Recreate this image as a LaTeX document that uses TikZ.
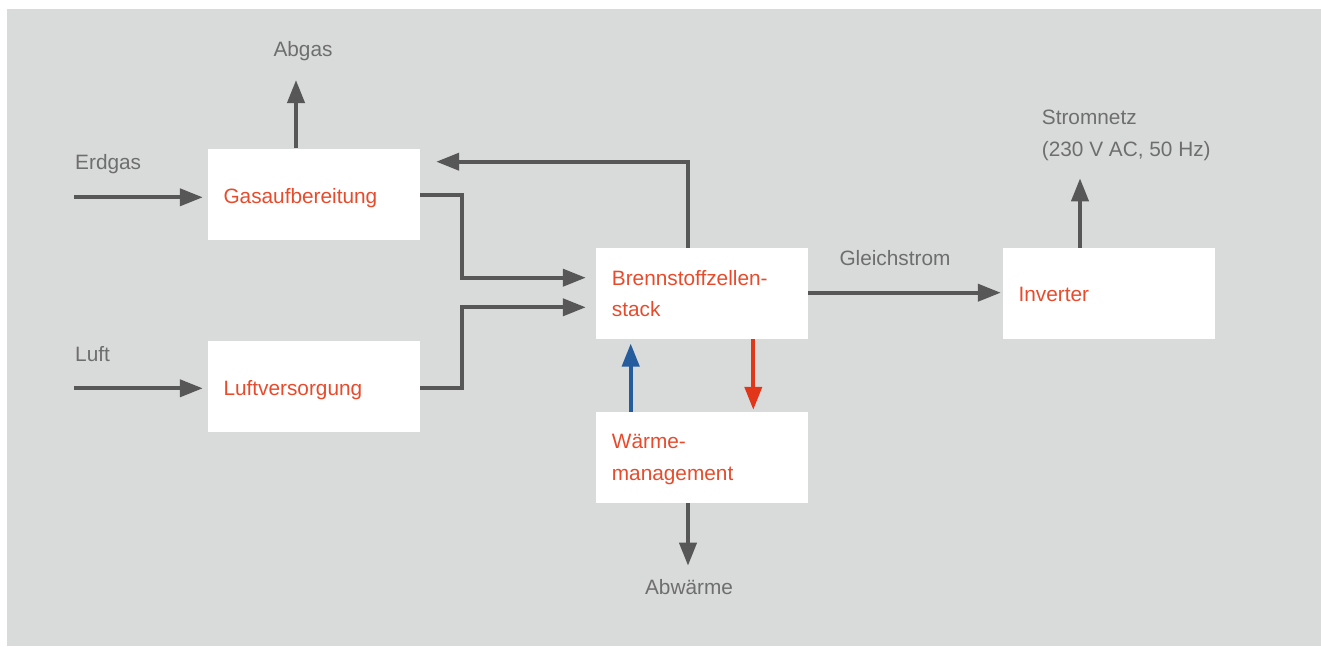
\documentclass[tikz,border=0pt]{standalone}
\usepackage{fontspec}
\setmainfont{Liberation Sans}
\usetikzlibrary{arrows.meta}
\definecolor{bggray}{HTML}{D9DBDA}
\definecolor{linegray}{HTML}{575757}
\definecolor{txtgray}{HTML}{6E6E6E}
\definecolor{boxtxt}{HTML}{E84B2C}
\definecolor{redarr}{HTML}{E2361B}
\definecolor{bluearr}{HTML}{245C9E}
\tikzset{
  box/.style={draw=none, fill=white, minimum width=212pt, minimum height=91pt, inner sep=0pt},
  lbl/.style={anchor=base west, inner sep=0pt, text=txtgray, font=\fontsize{20.8}{24}\selectfont},
  btxt/.style={anchor=base west, inner sep=0pt, text=boxtxt, font=\fontsize{20.8}{24}\selectfont},
  conn/.style={draw=linegray, line width=4pt},
  arr/.style={conn, -{Triangle[length=23pt,width=17pt]}},
}
\begin{document}
\begin{tikzpicture}[x=1pt,y=-1pt]
\useasboundingbox (0,0) rectangle (1321,646);
\fill[bggray] (7,9) rectangle (1321,646);

% boxes
\node[box] (gas) at (314,194) {};
\node[box] (luft) at (314,386.5) {};
\node[box] (stack) at (702,293.5) {};
\node[box] (waerme) at (702,457.5) {};
\node[box] (inv) at (1109,293.5) {};

% box texts
\node[btxt] (gastxt) at (223.3,203.3) {Gasaufbereitung};
\node[btxt] (lufttxt) at (223.3,395) {Luftversorgung};
\node[btxt] (stacktxt1) at (611.7,285) {Brennstoffzellen-};
\node[btxt] (stacktxt2) at (611.7,316.7) {stack};
\node[btxt] (waermetxt1) at (611.7,448) {Wärme-};
\node[btxt] (waermetxt2) at (611.7,480) {management};
\node[btxt] (invtxt) at (1018.3,301) {Inverter};

% labels
\node[lbl] (abgas) at (273.3,56) {Abgas};
\node[lbl] (erdgas) at (75,169) {Erdgas};
\node[lbl] (luftl) at (75,361) {Luft};
\node[lbl] (gleich) at (839.3,265) {Gleichstrom};
\node[lbl] (strom1) at (1041.7,124.3) {Stromnetz};
\node[lbl] (strom2) at (1041.7,156) {(230 V AC, 50 Hz)};
\node[lbl, anchor=base] (abw) at (689,594.3) {Abwärme};

% free ends
\coordinate (erdin) at (74,197.3);
\coordinate (luftin) at (74,388.3);
\coordinate (abgasend) at (296,80);
\coordinate (abwend) at (688,565.7);
\coordinate (stromend) at (1080,178.3);

% connectors
\draw[arr, shorten >=5pt] (erdin) -- (gas.west |- erdin);
\draw[arr, shorten >=5pt] (luftin) -- (luft.west |- luftin);
\draw[arr] ([xshift=-18pt]gas.north) -- (abgasend);
\draw[arr, shorten >=10pt] ([yshift=-1pt]gas.east) -- ++(41.5,0) |- ([yshift=15.8pt]stack.west);
\draw[arr, shorten >=10pt] ([yshift=-1.8pt]luft.east) -- ++(41.5,0) |- ([yshift=-13.8pt]stack.west);
\draw[arr] ([xshift=-13.7pt]stack.north) |- ([shift={(16pt,32.3pt)}]gas.east);
\draw[arr, shorten >=2pt] ([yshift=0.8pt]stack.east) -- ([yshift=0.8pt]inv.west);
\draw[arr] ([xshift=-29pt]inv.north) -- (stromend);
\draw[arr] ([xshift=-14pt]waerme.south) -- (abwend);
\draw[line width=4pt, draw=bluearr, -{Triangle[length=23pt,width=17pt]}, shorten >=4.3pt] ([xshift=-71.3pt]waerme.north) -- ([xshift=-71.3pt]stack.south);
\draw[line width=4pt, draw=redarr, -{Triangle[length=23pt,width=17pt]}, shorten >=2pt] ([xshift=51.3pt]stack.south) -- ([xshift=51.3pt]waerme.north);
\end{tikzpicture}
\end{document}
